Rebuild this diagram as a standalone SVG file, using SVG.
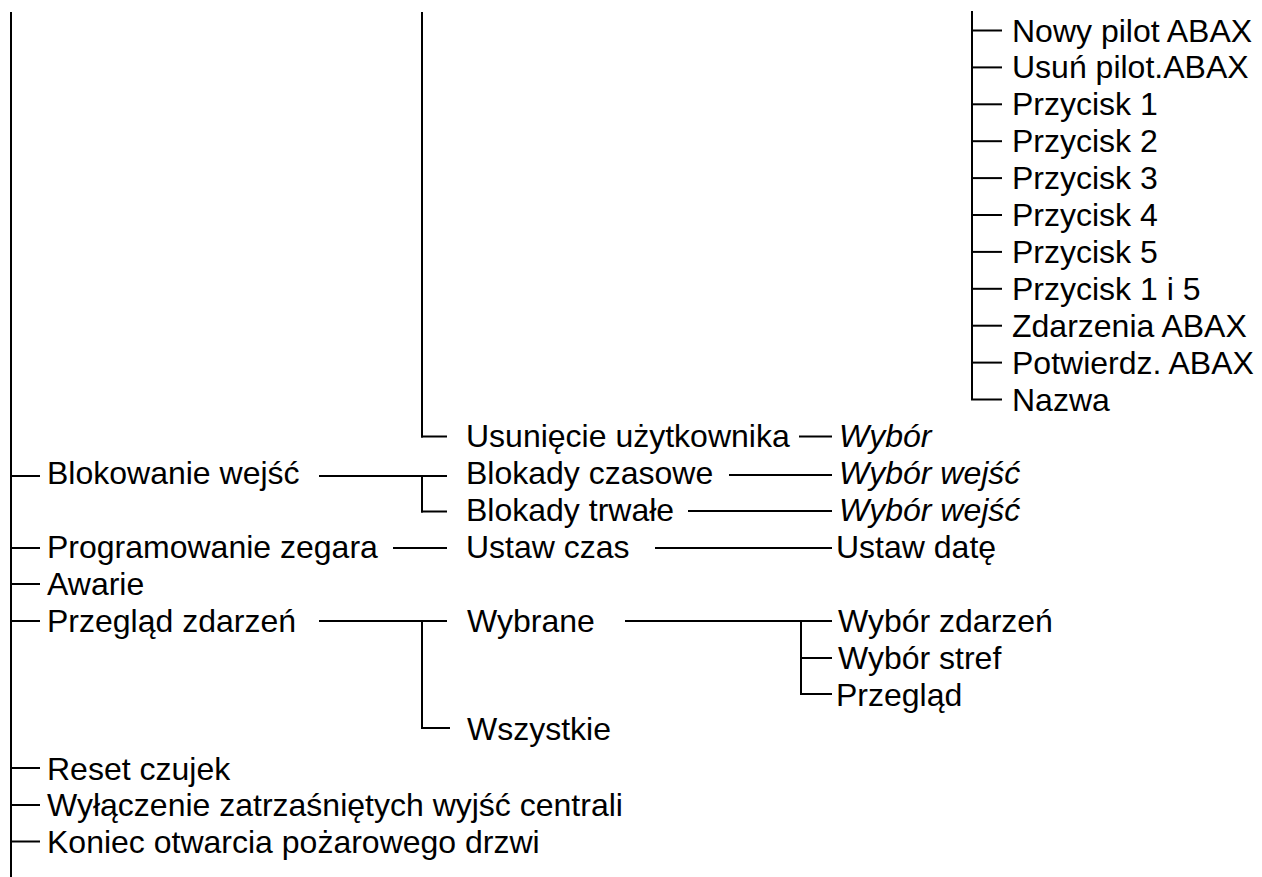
<svg xmlns="http://www.w3.org/2000/svg" width="1262" height="877" viewBox="0 0 1262 877">
<style>
text{font-family:"Liberation Sans",Arial,sans-serif;font-size:32px;fill:#000}
.i{font-style:italic}
#connectors line{stroke:#000;stroke-width:2;fill:none}
</style>
<rect width="1262" height="877" fill="#fff"/>
<g id="connectors">
<line x1="11" y1="12" x2="11" y2="877"/>
<line x1="11" y1="476" x2="40" y2="476"/>
<line x1="11" y1="548" x2="40" y2="548"/>
<line x1="11" y1="584" x2="40" y2="584"/>
<line x1="11" y1="621" x2="40" y2="621"/>
<line x1="11" y1="768" x2="40" y2="768"/>
<line x1="11" y1="805" x2="40" y2="805"/>
<line x1="11" y1="841.5" x2="40" y2="841.5"/>
<line x1="422" y1="12" x2="422" y2="437.5"/>
<line x1="421" y1="436.5" x2="447" y2="436.5"/>
<line x1="319" y1="476" x2="447" y2="476"/>
<line x1="422" y1="476" x2="422" y2="512.5"/>
<line x1="421" y1="511.5" x2="447" y2="511.5"/>
<line x1="393" y1="548" x2="447" y2="548"/>
<line x1="319" y1="621" x2="447" y2="621"/>
<line x1="422" y1="621" x2="422" y2="729"/>
<line x1="421" y1="728" x2="450" y2="728"/>
<line x1="799" y1="436.5" x2="832" y2="436.5"/>
<line x1="729" y1="475" x2="832" y2="475"/>
<line x1="688" y1="511" x2="832" y2="511"/>
<line x1="655" y1="548" x2="832" y2="548"/>
<line x1="625" y1="621" x2="832" y2="621"/>
<line x1="801" y1="621" x2="801" y2="695"/>
<line x1="800" y1="658" x2="832" y2="658"/>
<line x1="800" y1="694" x2="832" y2="694"/>
<line x1="972" y1="11" x2="972" y2="400"/>
<line x1="971" y1="30.5" x2="1002" y2="30.5"/>
<line x1="971" y1="67.4" x2="1002" y2="67.4"/>
<line x1="971" y1="104.3" x2="1002" y2="104.3"/>
<line x1="971" y1="141.2" x2="1002" y2="141.2"/>
<line x1="971" y1="178.1" x2="1002" y2="178.1"/>
<line x1="971" y1="215" x2="1002" y2="215"/>
<line x1="971" y1="251.9" x2="1002" y2="251.9"/>
<line x1="971" y1="288.8" x2="1002" y2="288.8"/>
<line x1="971" y1="325.7" x2="1002" y2="325.7"/>
<line x1="971" y1="362.6" x2="1002" y2="362.6"/>
<line x1="971" y1="399.5" x2="1002" y2="399.5"/>
</g>
<g id="n-nowy"><text x="1012" y="41.5">Nowy pilot ABAX</text></g>
<g id="n-usun"><text x="1012" y="78.4">Usuń pilot.ABAX</text></g>
<g id="n-p1"><text x="1012" y="115.3">Przycisk 1</text></g>
<g id="n-p2"><text x="1012" y="152.2">Przycisk 2</text></g>
<g id="n-p3"><text x="1012" y="189.1">Przycisk 3</text></g>
<g id="n-p4"><text x="1012" y="226">Przycisk 4</text></g>
<g id="n-p5"><text x="1012" y="262.9">Przycisk 5</text></g>
<g id="n-p15"><text x="1012" y="299.8">Przycisk 1 i 5</text></g>
<g id="n-zdarz"><text x="1012" y="336.7">Zdarzenia ABAX</text></g>
<g id="n-potw"><text x="1012" y="373.6">Potwierdz. ABAX</text></g>
<g id="n-nazwa"><text x="1012" y="410.5">Nazwa</text></g>
<g id="n-usuniecie"><text x="466" y="447.4">Usunięcie użytkownika</text></g>
<g id="n-wybor"><text class="i" x="839" y="447.4">Wybór</text></g>
<g id="n-blokowanie"><text x="47" y="484.3">Blokowanie wejść</text></g>
<g id="n-czasowe"><text x="466" y="484.3">Blokady czasowe</text></g>
<g id="n-wybor1"><text class="i" x="839" y="484.3">Wybór wejść</text></g>
<g id="n-trwale"><text x="466" y="521.2">Blokady trwałe</text></g>
<g id="n-wybor2"><text class="i" x="839" y="521.2">Wybór wejść</text></g>
<g id="n-prog"><text x="47" y="558.1">Programowanie zegara</text></g>
<g id="n-czas"><text x="466" y="558.1">Ustaw czas</text></g>
<g id="n-data"><text x="836" y="558.1">Ustaw datę</text></g>
<g id="n-awarie"><text x="47" y="595">Awarie</text></g>
<g id="n-przeglad"><text x="47" y="631.9">Przegląd zdarzeń</text></g>
<g id="n-wybrane"><text x="467" y="631.9">Wybrane</text></g>
<g id="n-wzd"><text x="838" y="631.9">Wybór zdarzeń</text></g>
<g id="n-wst"><text x="838" y="668.8">Wybór stref</text></g>
<g id="n-przeg2"><text x="836" y="705.7">Przegląd</text></g>
<g id="n-wszystkie"><text x="467" y="740">Wszystkie</text></g>
<g id="n-reset"><text x="47" y="779.5">Reset czujek</text></g>
<g id="n-wyl"><text x="47" y="816.4">Wyłączenie zatrzaśniętych wyjść centrali</text></g>
<g id="n-koniec"><text x="47" y="853.3">Koniec otwarcia pożarowego drzwi</text></g>
</svg>
